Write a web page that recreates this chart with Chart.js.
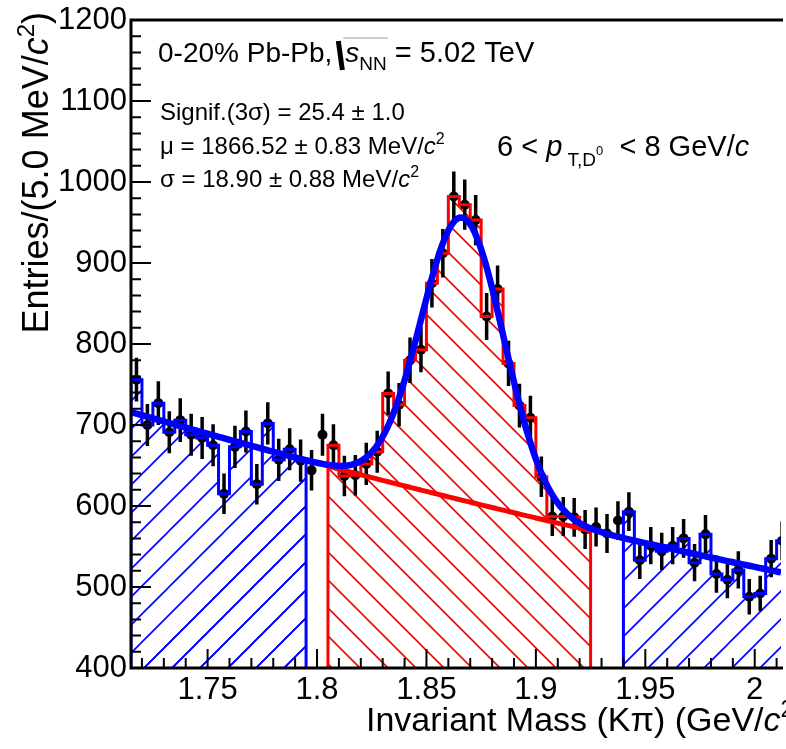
<!DOCTYPE html>
<html>
<head>
<meta charset="utf-8">
<script src="https://cdn.jsdelivr.net/npm/chart.js@4.4.1/dist/chart.umd.min.js"></script>
<style>
  html, body { margin: 0; padding: 0; background: #fff; overflow: hidden; }
</style>
</head>
<body>
<canvas id="massPlot" width="786" height="749"></canvas>
<script>
// K-pi invariant mass, 5 MeV/c^2 bins starting at 1.715 GeV/c^2
const binLow = 1.715;
const binWidth = 0.005;
const counts = [
  756, 700, 727, 691, 706, 688, 684, 675, 615, 673,
  692, 627, 702, 657, 670, 656, 644, 688, 675, 637,
  638, 652, 667, 739, 725, 780, 793, 875, 912, 982,
  972, 953, 834, 868, 776, 724, 709, 636, 587, 587,
  586, 571, 574, 566, 582, 593, 533, 551, 544, 551,
  560, 530, 565, 516, 509, 521, 488, 492, 535, 557
];
const countErrors = [
  27, 26, 27, 26, 27, 26, 26, 26, 25, 26,
  26, 25, 26, 26, 26, 26, 25, 26, 26, 25,
  25, 26, 26, 27, 27, 28, 28, 30, 30, 31,
  31, 31, 29, 29, 28, 27, 27, 25, 24, 24,
  24, 24, 24, 24, 24, 24, 23, 23, 23, 23,
  24, 23, 24, 23, 23, 23, 22, 22, 23, 24
];

// bin index ranges of the shaded regions
const leftSideband = [0, 15];
const signalRegion = [18, 41];
const rightSideband = [45, 59];

// fit: gaussian signal on an exponential background
const fitMean = 1.86652;   // GeV/c^2
const fitSigma = 0.01890;  // GeV/c^2
const fitPeak = 349;       // gaussian amplitude, entries
const bkgAtLow = 716;      // background at binLow
const bkgSlope = -1.09;    // per GeV/c^2

const xRange = [1.715, 2.012];
const yRange = [400, 1200];
const xTickValues = [1.75, 1.8, 1.85, 1.9, 1.95, 2.0];
const xTickLabels = ['1.75', '1.8', '1.85', '1.9', '1.95', '2'];
const yTickValues = [400, 500, 600, 700, 800, 900, 1000, 1100, 1200];
const yTickLabels = ['400', '500', '600', '700', '800', '900', '1000', '1100', '1200'];

const FONT = '"Liberation Sans", Arial, Helvetica, sans-serif';
const BLUE = '#0000ff';
const RED = '#ff0000';

function fitModel(m) {
    const bkg = bkgAtLow * Math.exp(bkgSlope * (m - binLow));
    const sig = fitPeak * Math.exp(-0.5 * Math.pow((m - fitMean) / fitSigma, 2));
    return bkg + sig;
}

function bkgModel(m) {
    return bkgAtLow * Math.exp(bkgSlope * (m - binLow));
}

function sampleCurve(fn, from, to) {
    const pts = [];
    const n = Math.round((to - from) / 0.001);
    for (let i = 0; i <= n; i++) {
        const m = from + (to - from) * i / n;
        pts.push({ x: m, y: fn(m) });
    }
    return pts;
}

// step outline of a histogram range, closed down to the axis
function stepPoints(range) {
    const pts = [{ x: binLow + range[0] * binWidth, y: yRange[0] }];
    for (let i = range[0]; i <= range[1]; i++) {
        const lo = binLow + i * binWidth;
        pts.push({ x: lo, y: counts[i] }, { x: lo + binWidth, y: counts[i] });
    }
    pts.push({ x: binLow + (range[1] + 1) * binWidth, y: yRange[0] });
    return pts;
}

const canvas = document.getElementById('massPlot');
const mainCtx = canvas.getContext('2d');

function hatch(color, rising) {
    const s = 28;
    const tile = document.createElement('canvas');
    tile.width = s;
    tile.height = s;
    const g = tile.getContext('2d');
    g.strokeStyle = color;
    g.lineWidth = 1.6;
    g.beginPath();
    if (rising) {
        g.moveTo(-2, s + 2); g.lineTo(s + 2, -2);
        g.moveTo(-2, 2); g.lineTo(2, -2);
        g.moveTo(s - 2, s + 2); g.lineTo(s + 2, s - 2);
    } else {
        g.moveTo(-2, -2); g.lineTo(s + 2, s + 2);
        g.moveTo(s - 2, -2); g.lineTo(s + 2, 2);
        g.moveTo(-2, s - 2); g.lineTo(2, s + 2);
    }
    g.stroke();
    return mainCtx.createPattern(tile, 'repeat');
}

// draw a run of text pieces: [text, font, dy]
function drawRich(ctx, x, y, parts, align) {
    let total = 0;
    parts.forEach(p => { ctx.font = p[1]; total += ctx.measureText(p[0]).width; });
    let cx = align === 'right' ? x - total : x;
    parts.forEach(p => {
        ctx.font = p[1];
        ctx.fillText(p[0], cx, y + (p[2] || 0));
        cx += ctx.measureText(p[0]).width;
    });
    return cx;
}

const errorBars = {
    id: 'errorBars',
    beforeDatasetsDraw(chart) {
        const { ctx, chartArea, scales } = chart;
        ctx.save();
        ctx.beginPath();
        ctx.rect(chartArea.left, chartArea.top, chartArea.right - chartArea.left, chartArea.bottom - chartArea.top);
        ctx.clip();
        ctx.strokeStyle = '#000';
        ctx.lineWidth = 3.5;
        ctx.beginPath();
        counts.forEach((v, i) => {
            const px = scales.x.getPixelForValue(binLow + (i + 0.5) * binWidth);
            ctx.moveTo(px, scales.y.getPixelForValue(v - countErrors[i]));
            ctx.lineTo(px, scales.y.getPixelForValue(v + countErrors[i]));
        });
        ctx.stroke();
        ctx.restore();
    }
};

const frameAndText = {
    id: 'frameAndText',
    afterDraw(chart) {
        const { ctx, chartArea, scales } = chart;
        const L = chartArea.left, R = chartArea.right, T = chartArea.top, B = chartArea.bottom;
        ctx.save();
        ctx.strokeStyle = '#000';
        ctx.fillStyle = '#000';

        // ticks pointing into the frame
        ctx.lineWidth = 2;
        ctx.beginPath();
        for (let v = yRange[0]; v <= yRange[1]; v += 20) {
            const py = scales.y.getPixelForValue(v);
            const len = v % 100 === 0 ? 20 : 10;
            ctx.moveTo(L, py); ctx.lineTo(L + len, py);
        }
        for (let k = 172; k <= 201; k++) {
            const v = k / 100;
            const px = scales.x.getPixelForValue(v);
            if (px < L || px > R) continue;
            const len = k % 5 === 0 ? 19 : 10;
            ctx.moveTo(px, B); ctx.lineTo(px, B - len);
        }
        ctx.stroke();

        // frame
        ctx.lineWidth = 3;
        ctx.beginPath();
        ctx.moveTo(R + 2, T); ctx.lineTo(L, T); ctx.lineTo(L, B); ctx.lineTo(R + 2, B);
        ctx.stroke();

        ctx.textBaseline = 'alphabetic';
        ctx.textAlign = 'left';

        // axis titles
        drawRich(ctx, 366, 731, [
            ['Invariant Mass (K\u03c0) (GeV/', '34px ' + FONT],
            ['c', 'italic 34px ' + FONT],
            ['2', '23px ' + FONT, -14],
            [')', '34px ' + FONT]
        ]);
        ctx.save();
        ctx.translate(48, 12);
        ctx.rotate(-Math.PI / 2);
        drawRich(ctx, 0, 0, [
            ['Entries/(5.0 MeV/', '36px ' + FONT],
            ['c', 'italic 36px ' + FONT],
            ['2', '24px ' + FONT, -14],
            [')', '36px ' + FONT]
        ], 'right');
        ctx.restore();

        // collision system line with the square root sign
        let x = drawRich(ctx, 158, 62, [['0-20% Pb-Pb,', '28px ' + FONT]]);
        const rootX = x + 4;
        ctx.lineWidth = 5;
        ctx.beginPath();
        ctx.moveTo(rootX + 2, 41); ctx.lineTo(rootX + 6, 70);
        ctx.stroke();
        x = drawRich(ctx, rootX + 9, 62, [
            ['s', 'italic 28px ' + FONT],
            ['NN', '19px ' + FONT, 8]
        ]);
        ctx.strokeStyle = '#999';
        ctx.lineWidth = 1;
        ctx.beginPath();
        ctx.moveTo(rootX + 7, 38); ctx.lineTo(x + 1, 38);
        ctx.stroke();
        drawRich(ctx, x, 62, [[' = 5.02 TeV', '29px ' + FONT]]);

        // fit summary
        drawRich(ctx, 160, 120, [['Signif.(3\u03c3) = 25.4 \u00b1 1.0', '24px ' + FONT]]);
        drawRich(ctx, 160, 154, [
            ['\u03bc = 1866.52 \u00b1 0.83 MeV/', '24px ' + FONT],
            ['c', 'italic 24px ' + FONT],
            ['2', '16px ' + FONT, -10]
        ]);
        drawRich(ctx, 160, 187, [
            ['\u03c3 = 18.90 \u00b1 0.88 MeV/', '24px ' + FONT],
            ['c', 'italic 24px ' + FONT],
            ['2', '16px ' + FONT, -10]
        ]);

        // pT interval
        drawRich(ctx, 497, 156, [
            ['6 < ', '29px ' + FONT],
            ['p', 'italic 29px ' + FONT],
            [' T,D', '19px ' + FONT, 10],
            ['0', '13px ' + FONT, -1],
            ['  < 8 GeV/', '29px ' + FONT],
            ['c', 'italic 29px ' + FONT]
        ]);
        ctx.restore();
    }
};

const dataPoints = counts.map((v, i) => ({ x: binLow + (i + 0.5) * binWidth, y: v }));

function histDataset(range, color, rising) {
    return {
        data: stepPoints(range),
        borderColor: color,
        borderWidth: 3,
        backgroundColor: hatch(color, rising),
        fill: 'start',
        pointRadius: 0,
        tension: 0,
        order: 2
    };
}

new Chart(canvas, {
    type: 'line',
    data: {
        datasets: [
            {
                data: sampleCurve(fitModel, xRange[0], xRange[1]),
                borderColor: BLUE,
                borderWidth: 6.5,
                pointRadius: 0,
                fill: false,
                tension: 0,
                order: 0
            },
            {
                data: sampleCurve(bkgModel, binLow + signalRegion[0] * binWidth, binLow + (signalRegion[1] + 1) * binWidth),
                borderColor: RED,
                borderWidth: 5,
                pointRadius: 0,
                fill: false,
                tension: 0,
                order: 1
            },
            histDataset(leftSideband, BLUE, true),
            histDataset(signalRegion, RED, false),
            histDataset(rightSideband, BLUE, true),
            {
                data: dataPoints,
                showLine: false,
                pointRadius: 5,
                pointBackgroundColor: '#000',
                pointBorderWidth: 0,
                order: 3
            }
        ]
    },
    options: {
        responsive: false,
        animation: false,
        devicePixelRatio: 1,
        layout: { padding: { top: 20, left: 0, right: 0, bottom: 0 } },
        plugins: {
            legend: { display: false },
            tooltip: { enabled: false },
            filler: { drawTime: 'beforeDatasetsDraw' }
        },
        scales: {
            x: {
                type: 'linear',
                min: xRange[0],
                max: xRange[1],
                grid: { display: false, drawTicks: false },
                border: { display: false },
                afterBuildTicks: s => { s.ticks = xTickValues.map(v => ({ value: v })); },
                afterFit: s => { s.height = 81; },
                ticks: {
                    padding: 7,
                    color: '#000',
                    maxRotation: 0,
                    font: { family: FONT, size: 31, lineHeight: 1 },
                    callback: (v, i) => xTickLabels[i]
                }
            },
            y: {
                min: yRange[0],
                max: yRange[1],
                grid: { display: false, drawTicks: false },
                border: { display: false },
                afterBuildTicks: s => { s.ticks = yTickValues.map(v => ({ value: v })); },
                afterFit: s => { s.width = 131; },
                ticks: {
                    padding: 4,
                    color: '#000',
                    font: { family: FONT, size: 31, lineHeight: 1 },
                    callback: (v, i) => yTickLabels[i]
                }
            }
        }
    },
    plugins: [errorBars, frameAndText]
});
</script>
</body>
</html>
